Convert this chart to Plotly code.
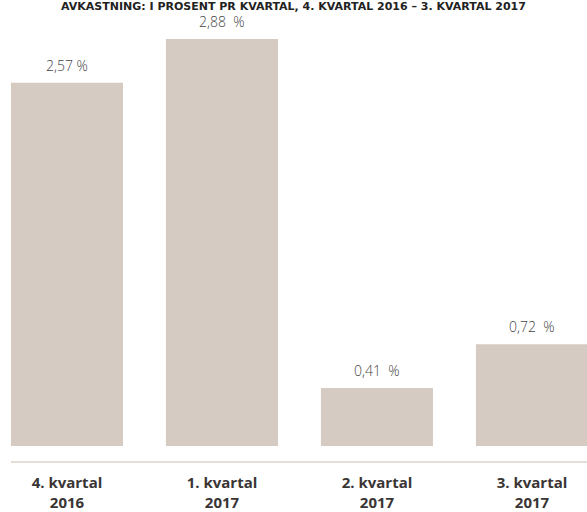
import plotly.graph_objects as go

categories = ["4. kvartal<br>2016", "1. kvartal<br>2017", "2. kvartal<br>2017", "3. kvartal<br>2017"]
values = [2.57, 2.88, 0.41, 0.72]
value_labels = ["2,57 %", "2,88\u00a0\u00a0%", "0,41\u00a0\u00a0%", "0,72\u00a0\u00a0%"]
title_text = "AVKASTNING: I PROSENT PR KVARTAL, 4. KVARTAL 2016 – 3. KVARTAL 2017"

xs = list(range(len(categories)))
bar_color = "#d5cbc2"

fig = go.Figure()
fig.add_trace(go.Bar(
    x=xs, y=values, width=0.723,
    marker=dict(color=bar_color, line=dict(width=0)),
    hoverinfo="skip",
))

annotations = []
for x, v, t in zip(xs, values, value_labels):
    annotations.append(dict(
        x=x, y=v, xref="x", yref="y", text=t, showarrow=False,
        yanchor="bottom", yshift=6,
        font=dict(family="Open Sans", size=14, color="#444444", weight=300),
    ))
annotations.append(dict(
    x=0.5, y=1, xref="paper", yref="paper", text="<b>" + title_text + "</b>",
    showarrow=False, xanchor="center", yanchor="top", yshift=2,
    font=dict(family="DejaVu Sans", size=11, color="#222222"),
))

fig.update_layout(
    width=587, height=512,
    margin=dict(l=0, r=0, t=0, b=48),
    paper_bgcolor="white", plot_bgcolor="white",
    showlegend=False,
    annotations=annotations,
    shapes=[dict(type="line", xref="paper", yref="paper", x0=11 / 587, x1=1, y0=0, y1=0,
                 line=dict(color="#ddd3ca", width=1.5))],
    xaxis=dict(
        range=[-0.432, 3.355], tickvals=xs, ticktext=["<b>" + c + "</b>" for c in categories],
        showgrid=False, zeroline=False, showline=False, ticks="",
        ticklabelstandoff=10,
        tickfont=dict(family="Open Sans", size=15, color="#3a3535"),
        fixedrange=True,
    ),
    yaxis=dict(
        range=[-0.1127, 3.155], visible=False, showgrid=False, zeroline=False,
        fixedrange=True,
    ),
)

fig.write_html("out.html")
